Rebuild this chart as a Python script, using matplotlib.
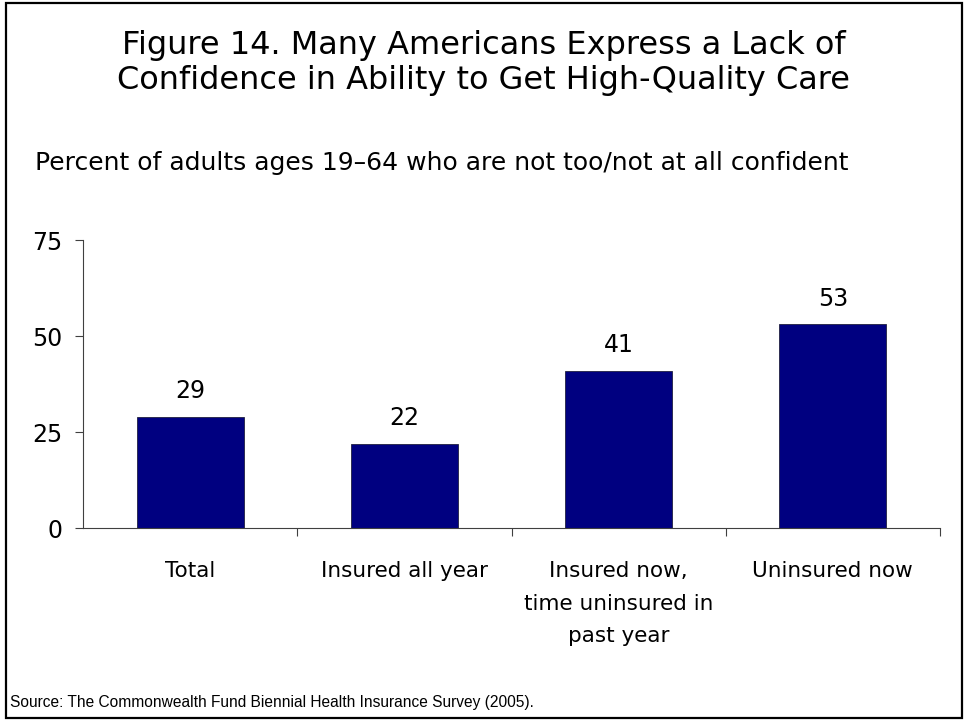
import matplotlib
matplotlib.use("Agg")
import matplotlib.pyplot as plt
from matplotlib.patches import Rectangle

categories = ["Total", "Insured all year", "Insured now,\ntime uninsured in\npast year", "Uninsured now"]
values = [29, 22, 41, 53]
yticks = [0, 25, 50, 75]

title = "Figure 14. Many Americans Express a Lack of\nConfidence in Ability to Get High-Quality Care"
subtitle = "Percent of adults ages 19\u201364 who are not too/not at all confident"
source = "Source: The Commonwealth Fund Biennial Health Insurance Survey (2005)."

W, H = 967, 725
fig = plt.figure(figsize=(W / 100, H / 100), dpi=100)
plt.rcParams['font.family'] = ['DejaVu Sans']

# figure border
fig.patches.append(Rectangle((5.5 / W, 1 - 718 / H), (962 - 5.5) / W, (718 - 2.5) / H,
                             transform=fig.transFigure, fill=False, edgecolor='black',
                             linewidth=1.6))

ax = fig.add_axes([83 / W, 1 - 528 / H, (940 - 83) / W, (528 - 240) / H])
x = list(range(len(categories)))
bars = ax.bar(x, values, width=0.5, color='#000080', edgecolor='#202040', linewidth=0.6)
ax.set_xlim(-0.5, len(categories) - 0.5)
ax.set_ylim(0, 75)
ax.set_yticks(yticks)
ax.set_yticklabels([str(v) for v in yticks], fontsize=17)
ax.set_xticks(x)
ax.set_xticklabels(categories, fontsize=15.5, linespacing=1.77, va='top')
ax.set_xticks([i + 0.5 for i in x], minor=True)
ax.tick_params(axis='x', which='major', length=0, pad=24)
ax.tick_params(axis='x', which='minor', length=6, width=0.8, color='#404040', direction='out')
ax.tick_params(axis='y', length=6, width=0.8, color='#404040', pad=9)
for s in ['top', 'right']:
    ax.spines[s].set_visible(False)
for s in ['left', 'bottom']:
    ax.spines[s].set_color('#404040')
    ax.spines[s].set_linewidth(0.8)

for xi, v in zip(x, values):
    ax.annotate(str(v), (xi, v), xytext=(0, 10), textcoords='offset points',
                ha='center', va='bottom', fontsize=17)

fig.text(0.5, 1 - 63 / H, title, ha='center', va='center', fontsize=23, linespacing=1.15)
fig.text(35 / W, 1 - 163 / H, subtitle, ha='left', va='center', fontsize=18)
fig.text(10 / W, 1 - 703 / H, source, ha='left', va='center', fontsize=11.2,
         family=['Liberation Sans'])

fig.savefig("out.png", dpi=100)
